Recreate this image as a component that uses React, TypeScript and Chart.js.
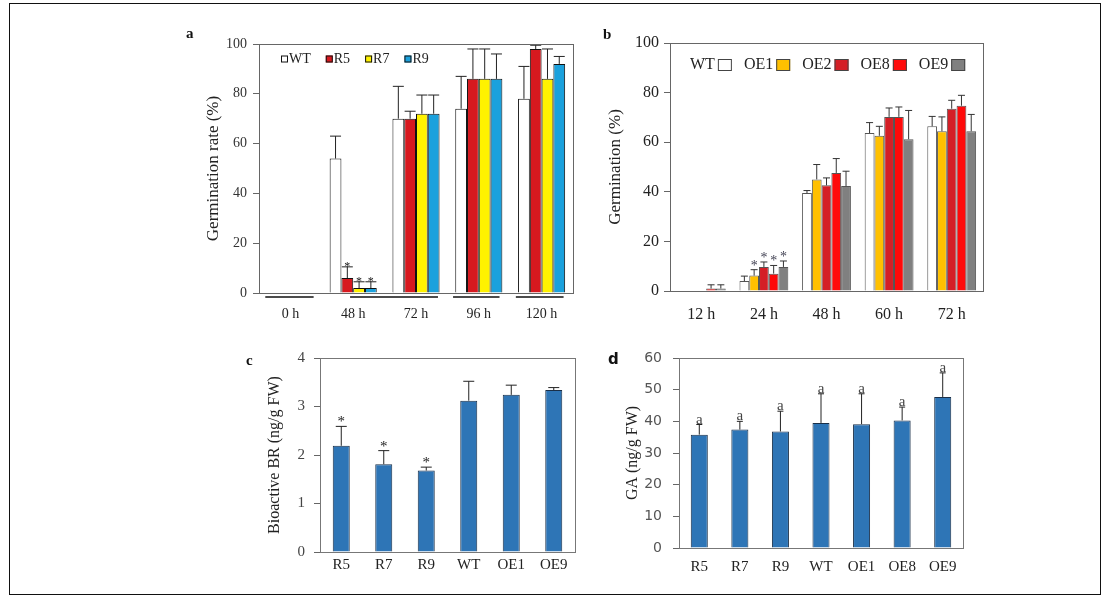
import React, { useEffect, useRef } from 'react';
import { Chart, registerables } from 'chart.js';

Chart.register(...registerables);

const SERIF = '"Liberation Serif", "Times New Roman", serif';
const SANS = '"DejaVu Sans", "Open Sans", sans-serif';

// ---------- Panel a ----------
const aCategories = ['0 h', '48 h', '72 h', '96 h', '120 h'];
const aWT = [0, 54, 70, 74, 78];
const aR5 = [0, 6, 70, 86, 98];
const aR7 = [0, 2, 72, 86, 86];
const aR9 = [0, 2, 72, 86, 92];
const aWTErr = [0, 9, 13, 13, 13];
const aR5Err = [0, 4.5, 3, 12, 1.5];
const aR7Err = [0, 2.5, 7.5, 12, 12];
const aR9Err = [0, 2.5, 7.5, 10, 3];
const aWTMarks = ['', '', '', '', ''];
const aR5Marks = ['', '*', '', '', ''];
const aR7Marks = ['', '*', '', '', ''];
const aR9Marks = ['', '*', '', '', ''];
const aYTicks = [0, 20, 40, 60, 80, 100];
// group underline spans (category index units)
const aUnderlines = [[-0.4, 0.37], [0.95, 2.35], [2.59, 3.33], [3.59, 4.35]];

// ---------- Panel b ----------
const bCategories = ['12 h', '24 h', '48 h', '60 h', '72 h'];
const bWT = [0, 4, 39.5, 63.7, 66.4];
const bOE1 = [0, 6.2, 45, 62.6, 64.4];
const bOE2 = [0, 9.7, 42.6, 70.2, 73.5];
const bOE8 = [1, 7, 47.6, 70.2, 74.7];
const bOE9 = [1, 9.7, 42.3, 61.2, 64.4];
const bWTErr = [0, 2, 1, 4.2, 4];
const bOE1Err = [0, 2.4, 6, 3.8, 5.8];
const bOE2Err = [0, 2, 3, 3.6, 3.4];
const bOE8Err = [1.5, 3.3, 5.8, 4, 4.2];
const bOE9Err = [1.5, 2.4, 6, 11.6, 6.8];
const bWTMarks = ['', '', '', '', ''];
const bOE1Marks = ['', '*', '', '', ''];
const bOE2Marks = ['', '*', '', '', ''];
const bOE8Marks = ['', '*', '', '', ''];
const bOE9Marks = ['', '*', '', '', ''];

// ---------- Panel c ----------
const cCategories = ['R5', 'R7', 'R9', 'WT', 'OE1', 'OE9'];
const cValues = [2.19, 1.81, 1.68, 3.12, 3.24, 3.34];
const cErr = [0.4, 0.28, 0.07, 0.4, 0.2, 0.05];
const cMarks = ['*', '*', '*', '', '', ''];

// ---------- Panel d ----------
const dCategories = ['R5', 'R7', 'R9', 'WT', 'OE1', 'OE8', 'OE9'];
const dValues = [35.8, 37.4, 36.8, 39.5, 39.1, 40.3, 47.7];
const dErr = [3.2, 2.6, 6.4, 9.2, 9.6, 4.2, 7.6];
const dMarks = ['a', 'a', 'a', 'a', 'a', 'a', 'a'];

const errorPlugin = {
  id: 'errbars',
  afterDatasetsDraw(chart: any, _a: any, opts: any) {
    const { ctx } = chart;
    const y = chart.scales.y;
    ctx.save();
    chart.data.datasets.forEach((ds: any, di: number) => {
      const meta = chart.getDatasetMeta(di);
      meta.data.forEach((bar: any, i: number) => {
        const v = ds.data[i];
        const e = ds.errors ? ds.errors[i] : 0;
        const x = bar.x;
        const yTop = y.getPixelForValue(v + e);
        const yBar = y.getPixelForValue(v);
        if (e > 0) {
          ctx.strokeStyle = opts.color || '#222';
          ctx.lineWidth = opts.width || 1;
          ctx.beginPath();
          ctx.moveTo(x, yBar);
          ctx.lineTo(x, yTop);
          ctx.moveTo(x - opts.cap / 2, yTop);
          ctx.lineTo(x + opts.cap / 2, yTop);
          ctx.stroke();
        }
        const m = ds.marks ? ds.marks[i] : '';
        if (m) {
          ctx.fillStyle = opts.markColor || '#222';
          ctx.font = opts.markFont;
          ctx.textAlign = 'center';
          ctx.textBaseline = 'alphabetic';
          ctx.fillText(m, x, yTop - opts.markGap);
        }
      });
    });
    ctx.restore();
  },
};

const framePlugin = {
  id: 'frame',
  afterDraw(chart: any, _a: any, opts: any) {
    const { ctx, chartArea } = chart;
    ctx.save();
    ctx.strokeStyle = opts.color || '#666';
    ctx.lineWidth = 1;
    ctx.strokeRect(chartArea.left + 0.5, chartArea.top + 0.5, chartArea.right - chartArea.left, chartArea.bottom - chartArea.top);
    if (opts.underlines) {
      const xs = chart.scales.x;
      ctx.strokeStyle = '#111';
      ctx.lineWidth = 1.5;
      opts.underlines.forEach((u: number[]) => {
        ctx.beginPath();
        ctx.moveTo(xs.getPixelForValue(u[0]), chartArea.bottom + opts.underlineOffset);
        ctx.lineTo(xs.getPixelForValue(u[1]), chartArea.bottom + opts.underlineOffset);
        ctx.stroke();
      });
    }
    ctx.restore();
  },
};

const legendPlugin = {
  id: 'customLegend',
  afterDraw(chart: any, _a: any, opts: any) {
    if (!opts || !opts.show) return;
    const { ctx, chartArea } = chart;
    ctx.save();
    ctx.font = opts.font;
    ctx.textBaseline = 'middle';
    ctx.textAlign = 'left';
    let x = chartArea.left + opts.dx;
    const y = chartArea.top + opts.dy;
    chart.data.datasets.forEach((ds: any) => {
      const label = ds.label;
      const w = ctx.measureText(label).width;
      const drawBox = (bx: number) => {
        ctx.fillStyle = ds.backgroundColor;
        ctx.fillRect(bx, y - opts.boxH / 2, opts.boxW, opts.boxH);
        ctx.strokeStyle = opts.boxBorder;
        ctx.lineWidth = 1;
        ctx.strokeRect(bx + 0.5, y - opts.boxH / 2 + 0.5, opts.boxW - 1, opts.boxH - 1);
      };
      ctx.fillStyle = '#222';
      if (opts.boxFirst) {
        drawBox(x);
        x += opts.boxW + opts.inner;
        ctx.fillStyle = '#222';
        ctx.fillText(label, x, y);
        x += w + opts.gap;
      } else {
        ctx.fillText(label, x, y);
        x += w + opts.inner;
        drawBox(x);
        x += opts.boxW + opts.gap;
      }
    });
    ctx.restore();
  },
};

type PanelProps = { left: number; top: number; width: number; height: number; config: any };

function Panel({ left, top, width, height, config }: PanelProps) {
  const ref = useRef<HTMLCanvasElement | null>(null);
  useEffect(() => {
    if (!ref.current) return;
    const chart = new Chart(ref.current, config);
    return () => chart.destroy();
  }, []);
  return (
    <canvas
      ref={ref}
      width={width}
      height={height}
      style={{ position: 'absolute', left, top, width, height }}
    />
  );
}

function yAxis(opts: any) {
  return {
    min: opts.min,
    max: opts.max,
    ticks: {
      stepSize: opts.step,
      font: { family: opts.tickFamily || SERIF, size: opts.tickSize },
      color: opts.tickColor || '#333',
      padding: opts.tickPad,
    },
    grid: { display: true, drawOnChartArea: false, tickLength: 6, color: '#666' },
    border: { display: true, color: '#666' },
    title: {
      display: true,
      text: opts.title,
      font: { family: SERIF, size: opts.titleSize },
      color: '#222',
      padding: { top: opts.titlePad, bottom: 0 },
    },
    afterFit: (s: any) => {
      s.width = opts.width;
    },
  };
}

function xAxis(opts: any) {
  return {
    ticks: { font: { family: SERIF, size: opts.size }, color: '#222', padding: opts.pad, maxRotation: 0, autoSkip: false },
    grid: { display: false, drawTicks: false },
    border: { display: false },
    afterFit: (s: any) => {
      s.height = opts.height;
    },
  };
}

const aDatasets = [
  { label: 'WT', data: aWT, errors: aWTErr, marks: aWTMarks, backgroundColor: '#ffffff' },
  { label: 'R5', data: aR5, errors: aR5Err, marks: aR5Marks, backgroundColor: '#d7191f' },
  { label: 'R7', data: aR7, errors: aR7Err, marks: aR7Marks, backgroundColor: '#fff200' },
  { label: 'R9', data: aR9, errors: aR9Err, marks: aR9Marks, backgroundColor: '#1ba1dd' },
].map((d) => ({ ...d, borderColor: '#111', borderWidth: 1, categoryPercentage: 0.75, barPercentage: 1 }));

const configA = {
  type: 'bar',
  data: { labels: aCategories, datasets: aDatasets },
  options: {
    animation: false,
    responsive: false,
    layout: { padding: { left: 0, top: 19, right: 7, bottom: 0 } },
    plugins: {
      legend: { display: false },
      tooltip: { enabled: false },
      errbars: { cap: 11, color: '#222', markFont: `12px ${SERIF}`, markGap: -3 },
      frame: { color: '#666', underlines: aUnderlines, underlineOffset: 4 },
      customLegend: { show: true, font: `14px ${SERIF}`, dx: 22, dy: 15, boxW: 7, boxH: 7, inner: 1, gap: 15, boxFirst: true, boxBorder: '#111' },
    },
    scales: {
      x: xAxis({ size: 14, pad: 13, height: 32 }),
      y: { ...yAxis({ min: 0, max: 100, step: 20, tickSize: 14, tickPad: 6, title: 'Germination rate (%)', titleSize: 17, titlePad: 23, width: 79 }), afterBuildTicks: (s: any) => { s.ticks = aYTicks.map((v) => ({ value: v })); } },
    },
  },
  plugins: [errorPlugin, framePlugin, legendPlugin],
};

const bDatasets = [
  { label: 'WT', data: bWT, errors: bWTErr, marks: bWTMarks, backgroundColor: '#ffffff' },
  { label: 'OE1', data: bOE1, errors: bOE1Err, marks: bOE1Marks, backgroundColor: '#ffc000' },
  { label: 'OE2', data: bOE2, errors: bOE2Err, marks: bOE2Marks, backgroundColor: '#d41f26' },
  { label: 'OE8', data: bOE8, errors: bOE8Err, marks: bOE8Marks, backgroundColor: '#ff0a0a' },
  { label: 'OE9', data: bOE9, errors: bOE9Err, marks: bOE9Marks, backgroundColor: '#808080' },
].map((d) => ({ ...d, borderColor: '#555', borderWidth: 1, categoryPercentage: 0.78, barPercentage: 1 }));

const configB = {
  type: 'bar',
  data: { labels: bCategories, datasets: bDatasets },
  options: {
    animation: false,
    responsive: false,
    layout: { padding: { left: 0, top: 18, right: 17, bottom: 0 } },
    plugins: {
      legend: { display: false },
      tooltip: { enabled: false },
      errbars: { cap: 7, color: '#333', markFont: `14px ${SERIF}`, markGap: 0, markColor: '#445' },
      frame: { color: '#666' },
      customLegend: { show: true, font: `16px ${SERIF}`, dx: 20, dy: 22, boxW: 14, boxH: 12, inner: 3, gap: 12, boxFirst: false, boxBorder: '#444' },
    },
    scales: {
      x: xAxis({ size: 16, pad: 14, height: 34 }),
      y: yAxis({ min: 0, max: 100, step: 20, tickSize: 16, tickPad: 5, tickColor: '#222', title: 'Germination (%)', titleSize: 17, titlePad: 5, width: 70 }),
    },
  },
  plugins: [errorPlugin, framePlugin, legendPlugin],
};

const configC = {
  type: 'bar',
  data: {
    labels: cCategories,
    datasets: [
      { label: 'BR', data: cValues, errors: cErr, marks: cMarks, backgroundColor: '#2e75b6', borderColor: '#1a2f48', borderWidth: 1, categoryPercentage: 1, barPercentage: 0.4 },
    ],
  },
  options: {
    animation: false,
    responsive: false,
    layout: { padding: { left: 0, top: 28, right: 15, bottom: 0 } },
    plugins: {
      legend: { display: false },
      tooltip: { enabled: false },
      errbars: { cap: 11, color: '#222', markFont: `15px ${SERIF}`, markGap: 0 },
      frame: { color: '#777' },
      customLegend: { show: false },
    },
    scales: {
      x: xAxis({ size: 15, pad: 4, height: 38 }),
      y: yAxis({ min: 0, max: 4, step: 1, tickSize: 15, tickPad: 9, tickColor: '#444', title: 'Bioactive BR (ng/g FW)', titleSize: 16, titlePad: 15, width: 70 }),
    },
  },
  plugins: [errorPlugin, framePlugin, legendPlugin],
};

const configD = {
  type: 'bar',
  data: {
    labels: dCategories,
    datasets: [
      { label: 'GA', data: dValues, errors: dErr, marks: dMarks, backgroundColor: '#2e75b6', borderColor: '#1a2f48', borderWidth: 1, categoryPercentage: 1, barPercentage: 0.42 },
    ],
  },
  options: {
    animation: false,
    responsive: false,
    layout: { padding: { left: 0, top: 28, right: 17, bottom: 0 } },
    plugins: {
      legend: { display: false },
      tooltip: { enabled: false },
      errbars: { cap: 6, color: '#222', markFont: `15px ${SERIF}`, markGap: 1, markColor: '#444' },
      frame: { color: '#777' },
      customLegend: { show: false },
    },
    scales: {
      x: xAxis({ size: 15, pad: 10, height: 42 }),
      y: yAxis({ min: 0, max: 60, step: 10, tickSize: 14, tickFamily: SANS, tickPad: 11, tickColor: '#555', title: 'GA (ng/g FW)', titleSize: 16, titlePad: 23, width: 79 }),
    },
  },
  plugins: [errorPlugin, framePlugin, legendPlugin],
};

const letterStyle = (left: number, top: number, family: string): React.CSSProperties => ({
  position: 'absolute',
  left,
  top,
  fontFamily: family,
  fontWeight: 'bold',
  fontSize: 15,
  lineHeight: '15px',
  color: '#111',
});

export default function App() {
  return (
    <div style={{ position: 'absolute', left: 0, top: 0, width: 1105, height: 597, background: '#fff', overflow: 'hidden' }}>
      <div style={{ position: 'absolute', left: 9, top: 3, width: 1090, height: 590, border: '1.5px solid #111' }} />
      <Panel left={180} top={25} width={400} height={300} config={configA} />
      <Panel left={600} top={25} width={400} height={300} config={configB} />
      <Panel left={250} top={330} width={340} height={260} config={configC} />
      <Panel left={600} top={330} width={380} height={260} config={configD} />
      <div style={letterStyle(186, 26, SERIF)}>a</div>
      <div style={letterStyle(603, 27, SERIF)}>b</div>
      <div style={letterStyle(246, 353, SERIF)}>c</div>
      <div style={letterStyle(608, 352, SANS)}>d</div>
    </div>
  );
}
